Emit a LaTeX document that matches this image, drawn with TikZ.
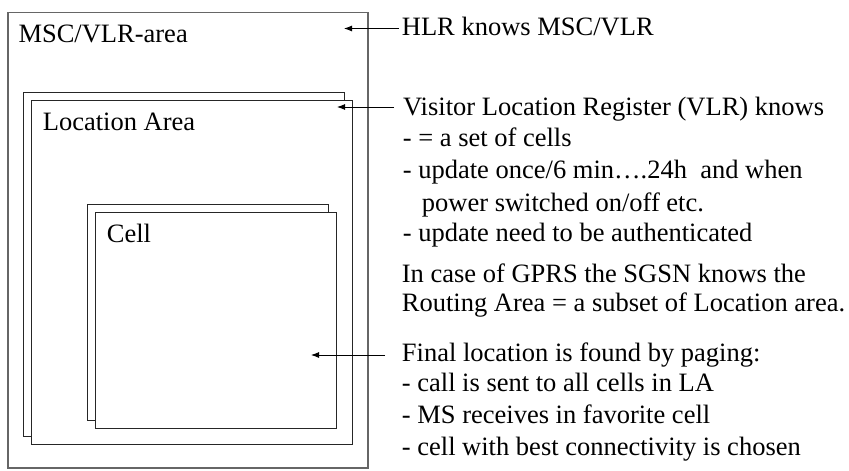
\documentclass[tikz,border=0pt]{standalone}
\usepackage{fontspec}
\setmainfont{Liberation Serif}
\usetikzlibrary{arrows.meta}
\begin{document}
\begin{tikzpicture}[x=1pt,y=-1pt,
  txt/.style={anchor=base west,inner sep=0pt,font=\fontsize{26.5}{31}\selectfont},
  outerbox/.style={draw=black!60,line width=1.3pt},
  areabox/.style={draw=black!85,line width=1pt,fill=white},
  pointer/.style={draw=black,line width=0.9pt,-{Latex[length=8pt,width=6pt]}}]
\useasboundingbox (0,0) rectangle (849,471);
% boxes
\draw[outerbox] (8,12.5) rectangle (368,468);
\draw[areabox] (23.5,92.5) rectangle (344,436);
\draw[areabox] (31.5,100) rectangle (352,444);
\draw[areabox] (87.5,204.5) rectangle (328,420);
\draw[areabox] (95.5,212.5) rectangle (336,428);
% box labels
\node[txt] (msc) at (18.3,42.7) {MSC/VLR-area};
\node[txt] (la) at (42.7,130.7) {Location Area};
\node[txt] (cell) at (106.7,242.7) {Cell};
% right texts
\node[txt] (hlr) at (401.7,35) {HLR knows MSC/VLR};
\node[txt] (vlr1) at (403,115) {Visitor Location Register (VLR) knows};
\node[txt] (vlr2) at (402.7,146.7) {- = a set of cells};
\node[txt] (vlr3) at (402.7,178.3) {- update once/6 min\dots.24h\ \ and when};
\node[txt] (vlr4) at (421.7,211.7) {power switched on/off etc.};
\node[txt] (vlr5) at (402.7,241.5) {- update need to be authenticated};
\node[txt] (gprs1) at (401.7,282.7) {In case of GPRS the SGSN knows the};
\node[txt] (gprs2) at (401.7,311.7) {Routing Area = a subset of Location area.};
\node[txt] (pag1) at (401.7,361.7) {Final location is found by paging:};
\node[txt] (pag2) at (401.7,391.7) {- call is sent to all cells in LA};
\node[txt] (pag3) at (401.7,423.3) {- MS receives in favorite cell};
\node[txt] (pag4) at (401.7,455) {- cell with best connectivity is chosen};
% pointers
\coordinate (p1s) at (399,28.5); \coordinate (p1e) at (344,28.5);
\coordinate (p2s) at (394,107); \coordinate (p2e) at (337,107);
\coordinate (p3s) at (385,355); \coordinate (p3e) at (311,355);
\draw[pointer] (p1s) -- (p1e);
\draw[pointer] (p2s) -- (p2e);
\draw[pointer] (p3s) -- (p3e);
\end{tikzpicture}
\end{document}
